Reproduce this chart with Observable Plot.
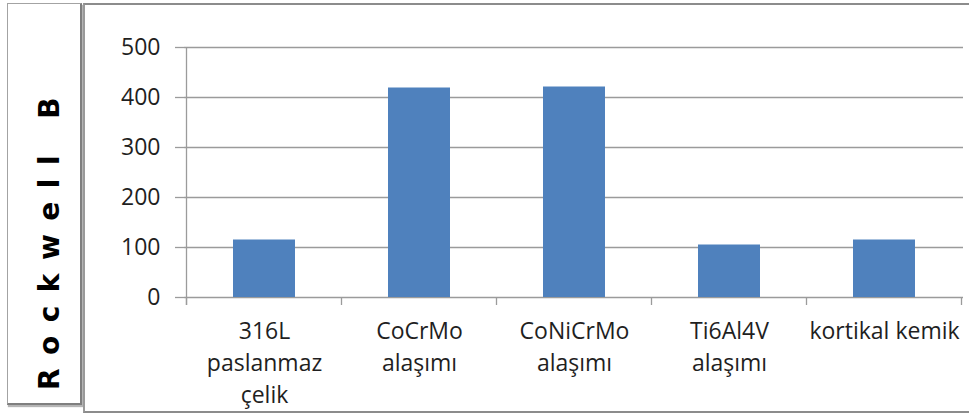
<!DOCTYPE html>
<html>
<head>
<meta charset="utf-8">
<script src="https://cdn.jsdelivr.net/npm/d3@7"></script>
<script src="https://cdn.jsdelivr.net/npm/@observablehq/plot@0.6"></script>
<style>
  html, body { margin: 0; padding: 0; background: #fff; }
  #page { position: relative; width: 969px; height: 416px; overflow: hidden; background: #fff; }
  #title-box {
    position: absolute; left: 7px; top: 3px; width: 72px; height: 399px;
    border: 1px solid #a3a3a3; border-right: 2px solid #7f7f7f; border-bottom: 2px solid #7f7f7f;
    box-shadow: 1px 2px 1px #b5b5b5; background: #fff;
  }
  #y-title {
    position: absolute; left: 50px; top: 237px;
    transform: translate(-50%, -50%) rotate(-90deg);
    font-family: "DejaVu Sans", sans-serif; font-weight: bold; font-size: 28px;
    line-height: 1; letter-spacing: 13.5px; white-space: nowrap; color: #000;
  }
  #chart-box {
    position: absolute; left: 83px; top: 3px; width: 900px; height: 406px;
    border-top: 2px solid #8c8c8c; border-left: 2px solid #9a9a9a; border-bottom: 2px solid #8c8c8c;
    background: #fff;
  }
  #chart { position: absolute; left: 0; top: 0; }
</style>
</head>
<body>
<div id="page">
  <div id="title-box"></div>
  <div id="y-title"></div>
  <div id="chart-box"></div>
  <div id="chart"></div>
</div>
<script>
// Hardness of implant materials compared with cortical bone
const categories = ["316L\npaslanmaz\nçelik", "CoCrMo\nalaşımı", "CoNiCrMo\nalaşımı", "Ti6Al4V\nalaşımı", "kortikal kemik"];
const hardness = [115, 419, 421, 105, 115];
const yTicks = [0, 100, 200, 300, 400, 500];
const yTitle = "Rockwell B";

const rows = categories.map((material, i) => ({material, value: hardness[i]}));

const gridColor = "#9b9b9b";
const textColor = "#1f1f1f";
const barColor = "#4f81bd";

document.getElementById("y-title").textContent = yTitle;

// Vertical axis line plus the short ticks that separate the categories
function categoryEdges(index, scales) {
  const x = scales.x, y = scales.y;
  const step = x.step(), half = x.bandwidth() / 2;
  const y0 = y(0);
  const edges = categories.map(c => x(c) + half - step / 2);
  edges.push(x(categories[categories.length - 1]) + half + step / 2);
  const g = d3.create("svg:g").attr("stroke", gridColor).attr("stroke-width", 1.3);
  g.append("line")
    .attr("x1", edges[0]).attr("x2", edges[0])
    .attr("y1", y(yTicks[yTicks.length - 1])).attr("y2", y0 + 8);
  for (const e of edges) {
    g.append("line").attr("x1", e).attr("x2", e).attr("y1", y0).attr("y2", y0 + 8);
  }
  return g.node();
}

const chart = Plot.plot({
  width: 969,
  height: 416,
  marginLeft: 184,
  marginRight: 6,
  marginTop: 47,
  marginBottom: 119,
  style: {background: "transparent", fontFamily: "'Open Sans', sans-serif", fontSize: "23px", color: textColor},
  x: {domain: categories, paddingInner: 0.6, paddingOuter: 0.3, label: null},
  y: {domain: [0, 500], label: null},
  marks: [
    Plot.gridY({ticks: yTicks, stroke: gridColor, strokeOpacity: 1, strokeWidth: 1.3}),
    Plot.axisY({ticks: yTicks, tickSize: 9, tickPadding: 15, stroke: gridColor, strokeWidth: 1.3, fill: textColor, fontSize: 23, label: null}),
    categoryEdges,
    Plot.barY(rows, {x: "material", y: "value", fill: barColor}),
    Plot.axisX({tickSize: 0, tickPadding: 18, lineHeight: 1.41, fill: textColor, fontSize: 23, label: null})
  ]
});

document.getElementById("chart").appendChild(chart);
</script>
</body>
</html>
